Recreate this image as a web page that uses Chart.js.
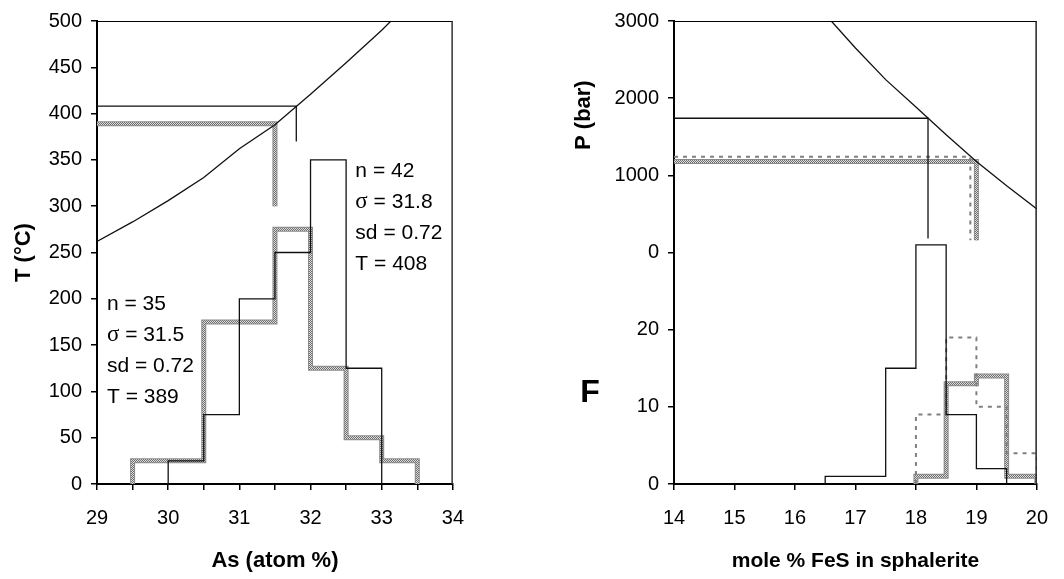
<!DOCTYPE html>
<html><head><meta charset="utf-8">
<script src="https://cdn.jsdelivr.net/npm/chart.js@4.4.1/dist/chart.umd.min.js"></script>
<style>
html,body{margin:0;padding:0;background:#fff;width:1064px;height:579px;overflow:hidden;}
#c1{position:absolute;left:0;top:0;}
#c2{position:absolute;left:540px;top:0;}
</style></head><body>
<canvas id="c1" width="480" height="579"></canvas>
<canvas id="c2" width="524" height="579"></canvas>
<script>
// ---------- Left panel: As (atom %) vs T (°C) ----------
const asCurveX = [29, 29.5, 30, 30.5, 31, 31.5, 32, 32.5, 33, 33.13];
const asCurveT = [262, 283, 306, 331, 362, 388, 421, 455, 490, 500];
const asEdgesA = [30, 30.5, 31, 31.5, 32, 32.5, 33];              // n = 42
const asCountsA = [25, 75, 200, 250, 350, 125];
const asEdgesB = [29.5, 30, 30.5, 31, 31.5, 32, 32.5, 33, 33.5];  // n = 35
const asCountsB = [25, 25, 175, 175, 275, 125, 50, 25];
const asReadA = [31.8, 408, 370];   // x, T, lower end of drop line
const asReadB = [31.5, 389, 300];
const asStatsA = ['n = 42', 'σ = 31.8', 'sd = 0.72', 'T = 408'];
const asStatsB = ['n = 35', 'σ = 31.5', 'sd = 0.72', 'T = 389'];
const asXTickLabels = ['29', '30', '31', '32', '33', '34'];

// ---------- Right panel: mole % FeS vs P (bar) / F ----------
const fesCurveX = [16.6, 17, 17.5, 18, 18.5, 19, 19.5, 20];
const fesCurveP = [3000, 2650, 2240, 1885, 1525, 1180, 865, 565];
const fesEdgesA = [16.5, 17, 17.5, 18, 18.5, 19, 19.5];
const fesCountsA = [1, 1, 15, 31, 9, 2];        // solid black
const fesEdgesB = [18, 18.5, 19, 19.5, 20];
const fesCountsB = [9, 19, 10, 4];              // dashed grey
const fesCountsC = [1, 13, 14, 1];              // thick grey
const fesReadA = [18.2, 1740, 180];
const fesReadB = [18.9, 1240, 160];
const fesReadC = [19.0, 1180, 160];
const fesYTickLabels = ['0', '10', '20', '0', '1000', '2000', '3000'];
const fesXTickLabels = ['14', '15', '16', '17', '18', '19', '20'];

Chart.defaults.font.family = "'Liberation Sans', Arial, sans-serif";
Chart.defaults.color = '#000';

const pAxis = p => 30 + p / 100;   // pressure shares the upper half of the axis

function stepPath(edges, counts) {
  const pts = [{x: edges[0], y: 0}];
  counts.forEach((c, i) => { pts.push({x: edges[i], y: c}); pts.push({x: edges[i + 1], y: c}); });
  pts.push({x: edges[edges.length - 1], y: 0});
  return pts;
}
function zip(xs, ys, f) { return xs.map((x, i) => ({x: x, y: f ? f(ys[i]) : ys[i]})); }
function readPath(x0, r, f) {
  const g = f || (v => v);
  return [{x: x0, y: g(r[1])}, {x: r[0], y: g(r[1])}, {x: r[0], y: g(r[2])}];
}

function makePattern() {
  const pc = document.createElement('canvas'); pc.width = 2; pc.height = 2;
  const p = pc.getContext('2d');
  p.fillStyle = '#dedede'; p.fillRect(0, 0, 2, 2);
  p.fillStyle = '#6e6e6e'; p.fillRect(0, 0, 1, 1); p.fillRect(1, 1, 1, 1);
  return document.getElementById('c1').getContext('2d').createPattern(pc, 'repeat');
}
const greyPattern = makePattern();

const lineBase = {showLine: true, pointRadius: 0, fill: false, tension: 0, borderJoinStyle: 'miter', borderCapStyle: 'butt'};
function black(data, order) { return Object.assign({}, lineBase, {data, borderColor: '#111', borderWidth: 1.3, order}); }
function thickOutline(data, order) { return Object.assign({}, lineBase, {data, borderColor: '#8a8a8a', borderWidth: 5, order}); }
function thickFill(data, order) { return Object.assign({}, lineBase, {data, borderColor: greyPattern, borderWidth: 3, order}); }
function dashed(data, order) { return Object.assign({}, lineBase, {data, borderColor: '#808080', borderWidth: 2, borderDash: [4, 5], order}); }

const frame = {
  id: 'frame',
  afterDatasetsDraw(chart, args, opts) {
    const {ctx, chartArea: a} = chart;
    ctx.save();
    ctx.lineWidth = 1;
    ctx.strokeStyle = '#000';
    ctx.beginPath(); ctx.moveTo(a.left, a.top + 0.5); ctx.lineTo(a.right, a.top + 0.5); ctx.stroke();
    ctx.strokeStyle = opts.rightColor || '#000';
    ctx.lineWidth = 1.5;
    ctx.beginPath(); ctx.moveTo(a.right - 0.75, a.top); ctx.lineTo(a.right - 0.75, a.bottom); ctx.stroke();
    ctx.restore();
  }
};

function drawStat(ctx, str, x, y) {
  ctx.textBaseline = 'middle'; ctx.textAlign = 'left';
  if (str.charAt(0) === 'σ') {
    ctx.font = "23px 'Liberation Serif', 'Times New Roman', serif";
    ctx.fillText('σ', x, y);
    const w = ctx.measureText('σ').width;
    ctx.font = "21px 'Liberation Sans', Arial, sans-serif";
    ctx.fillText(str.slice(1), x + w, y);
  } else {
    ctx.font = "21px 'Liberation Sans', Arial, sans-serif";
    ctx.fillText(str, x, y);
  }
}

const leftText = {
  id: 'leftText',
  afterDatasetsDraw(chart) {
    const ctx = chart.ctx, xs = chart.scales.x, ys = chart.scales.y;
    ctx.save(); ctx.fillStyle = '#000';
    const xa = xs.getPixelForValue(32.63), ya = ys.getPixelForValue(338);
    asStatsA.forEach((s, i) => drawStat(ctx, s, xa, ya + i * 31));
    const xb = xs.getPixelForValue(29.14), yb = ys.getPixelForValue(194);
    asStatsB.forEach((s, i) => drawStat(ctx, s, xb, yb + i * 31));
    ctx.restore();
  }
};

const rightText = {
  id: 'rightText',
  afterDraw(chart) {
    const ctx = chart.ctx, a = chart.chartArea, ys = chart.scales.y;
    ctx.save(); ctx.fillStyle = '#000';
    ctx.textAlign = 'center'; ctx.textBaseline = 'middle';
    ctx.font = "bold 22px 'Liberation Sans', Arial, sans-serif";
    ctx.translate(a.left - 90, ys.getPixelForValue(47.8));
    ctx.rotate(-Math.PI / 2);
    ctx.fillText('P (bar)', 0, 0);
    ctx.restore();
    ctx.save(); ctx.fillStyle = '#000';
    ctx.textAlign = 'center'; ctx.textBaseline = 'middle';
    ctx.font = "bold 32px 'Liberation Sans', Arial, sans-serif";
    ctx.fillText('F', a.left - 84, ys.getPixelForValue(11.8));
    ctx.restore();
  }
};

const axisGrid = {drawOnChartArea: false, drawTicks: true, tickLength: 6, color: '#000', lineWidth: 1.5};
const axisBorder = {display: true, color: '#000', width: 2};

new Chart(document.getElementById('c1'), {
  type: 'scatter',
  data: {datasets: [
    black(stepPath(asEdgesA, asCountsA), 0),
    black(zip(asCurveX, asCurveT), 0),
    black(readPath(29, asReadA), 0),
    thickFill(stepPath(asEdgesB, asCountsB), 1),
    thickFill(readPath(29, asReadB), 1),
    thickOutline(stepPath(asEdgesB, asCountsB), 2),
    thickOutline(readPath(29, asReadB), 2)
  ]},
  options: {
    responsive: false, animation: false, devicePixelRatio: 1,
    layout: {padding: {top: 17, right: 24, left: 0, bottom: 0}},
    plugins: {legend: {display: false}, tooltip: {enabled: false}, frame: {rightColor: '#333'}},
    scales: {
      x: {type: 'linear', min: 29, max: 34,
        ticks: {stepSize: 0.5, autoSkip: false, maxRotation: 0, padding: 16, font: {size: 20}, color: '#000',
          callback: (v) => { const k = Math.round((v - 29) * 2); return k % 2 === 0 ? asXTickLabels[k / 2] : ''; }},
        grid: axisGrid, border: axisBorder,
        title: {display: true, text: 'As (atom %)', color: '#000', font: {size: 22, weight: 'bold'}, padding: {top: 0, bottom: 5}},
        afterFit: s => { s.height = 95; }
      },
      y: {type: 'linear', min: 0, max: 500,
        ticks: {stepSize: 50, autoSkip: false, padding: 9, font: {size: 20}, color: '#000'},
        grid: axisGrid, border: axisBorder,
        title: {display: true, text: 'T (°C)', color: '#000', font: {size: 22, weight: 'bold'}, padding: {top: 11, bottom: 0}},
        afterFit: s => { s.width = 97; }
      }
    }
  },
  plugins: [frame, leftText]
});

new Chart(document.getElementById('c2'), {
  type: 'scatter',
  data: {datasets: [
    black(stepPath(fesEdgesA, fesCountsA), 0),
    black(zip(fesCurveX, fesCurveP, pAxis), 0),
    black(readPath(14, fesReadA, pAxis), 0),
    dashed(stepPath(fesEdgesB, fesCountsB), 1),
    dashed(readPath(14, fesReadB, pAxis), 1),
    thickFill(stepPath(fesEdgesB, fesCountsC), 2),
    thickFill(readPath(14, fesReadC, pAxis), 2),
    thickOutline(stepPath(fesEdgesB, fesCountsC), 3),
    thickOutline(readPath(14, fesReadC, pAxis), 3)
  ]},
  options: {
    responsive: false, animation: false, devicePixelRatio: 1,
    layout: {padding: {top: 17, right: 15, left: 0, bottom: 0}},
    plugins: {legend: {display: false}, tooltip: {enabled: false}, frame: {rightColor: '#222'}},
    scales: {
      x: {type: 'linear', min: 14, max: 20,
        ticks: {stepSize: 1, autoSkip: false, maxRotation: 0, padding: 16, font: {size: 20}, color: '#000',
          callback: (v, i) => fesXTickLabels[i]},
        grid: axisGrid, border: axisBorder,
        title: {display: true, text: 'mole % FeS in sphalerite', color: '#000', font: {size: 21, weight: 'bold'}, padding: {top: 0, bottom: 5}},
        afterFit: s => { s.height = 95; }
      },
      y: {type: 'linear', min: 0, max: 60,
        ticks: {stepSize: 10, autoSkip: false, padding: 9, font: {size: 20}, color: '#000',
          callback: (v, i) => fesYTickLabels[i]},
        grid: axisGrid, border: axisBorder,
        afterFit: s => { s.width = 134; }
      }
    }
  },
  plugins: [frame, rightText]
});
</script>
</body></html>
